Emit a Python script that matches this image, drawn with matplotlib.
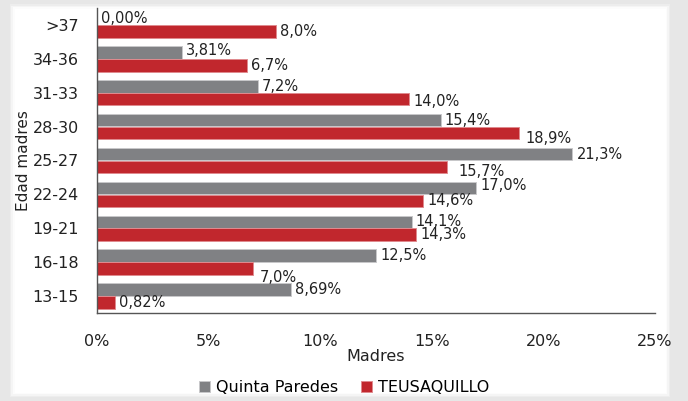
import matplotlib.pyplot as plt
import numpy as np
from matplotlib.patches import Rectangle

# data, top to bottom as in the chart
categories = ['>37', '34-36', '31-33', '28-30', '25-27', '22-24', '19-21', '16-18', '13-15']
quinta = [0.0, 3.81, 7.2, 15.4, 21.3, 17.0, 14.1, 12.5, 8.69]
teusa = [8.0, 6.7, 14.0, 18.9, 15.7, 14.6, 14.3, 7.0, 0.82]
quinta_lbl = ['0,00%', '3,81%', '7,2%', '15,4%', '21,3%', '17,0%', '14,1%', '12,5%', '8,69%']
teusa_lbl = ['8,0%', '6,7%', '14,0%', '18,9%', '15,7%', '14,6%', '14,3%', '7,0%', '0,82%']

# manual label nudges (points) - the original had some labels dragged around
q_dy = [0, 1.5, 0, 0, 0, 2, 0.5, 0, 0]
t_dy = [0, 0, -1.5, -3.6, -3.6, 0, 0, -6.5, 0]
t_dx = [0, 0, 0, 2, 5, 0, 0, 2, 0]

grey = '#808184'
red = '#c1272d'

fig = plt.figure(figsize=(6.88, 4.01), dpi=100)
fig.patch.set_facecolor('#e7e7e7')

# white panel with soft edge
for i, a in enumerate([0.25, 0.45, 0.7, 1.0]):
    m = 4 - i
    fig.patches.append(Rectangle(((16 - m * 1.5) / 688, (10 - m * 1.5) / 401),
                                 (648 + m * 3) / 688, (381 + m * 3) / 401,
                                 transform=fig.transFigure, facecolor='white',
                                 alpha=a, edgecolor='none', zorder=-10))

ax = fig.add_axes([97 / 688, 1 - 313 / 401, 558 / 688, 305 / 401])
ax.set_facecolor('none')
ax.set_zorder(5)

y = np.arange(len(categories))
h = 0.37
ax.barh(y - 0.19, quinta, height=h, color=grey, edgecolor='#c8c8ca', linewidth=0.7,
        label='Quinta Paredes')
ax.barh(y + 0.19, teusa, height=h, color=red, edgecolor='#e08a8e', linewidth=0.7,
        label='TEUSAQUILLO')

for i in range(len(categories)):
    ax.annotate(quinta_lbl[i], (quinta[i], y[i] - 0.19), xytext=(3, q_dy[i]),
                textcoords='offset points', va='center', ha='left', fontsize=10.5, color='#222222')
    ax.annotate(teusa_lbl[i], (teusa[i], y[i] + 0.19), xytext=(3 + t_dx[i], t_dy[i]),
                textcoords='offset points', va='center', ha='left', fontsize=10.5, color='#222222')

ax.set_xlim(0, 25)
ax.set_ylim(len(categories) - 0.5, -0.5)
ax.set_xticks([0, 5, 10, 15, 20, 25])
ax.set_xticklabels(['0%', '5%', '10%', '15%', '20%', '25%'])
ax.set_yticks(y)
ax.set_yticklabels(categories)
ax.tick_params(axis='x', length=0, pad=15, labelsize=11.5, colors='#222222')
ax.tick_params(axis='y', length=0, pad=13, labelsize=11.5, colors='#222222')

for s in ['top', 'right']:
    ax.spines[s].set_visible(False)
for s in ['left', 'bottom']:
    ax.spines[s].set_color('#555555')
    ax.spines[s].set_linewidth(1.0)

ax.set_xlabel('Madres', fontsize=11.5, labelpad=0, color='#222222')
ax.set_ylabel('Edad madres', fontsize=11, labelpad=1, color='#222222')

ax.legend(loc='center', bbox_to_anchor=(0.443, -0.245), ncol=2, frameon=False,
          fontsize=11.5, handlelength=0.7, handleheight=0.7, handletextpad=0.4,
          columnspacing=1.4)

plt.savefig('out.png', dpi=100, facecolor=fig.get_facecolor())
